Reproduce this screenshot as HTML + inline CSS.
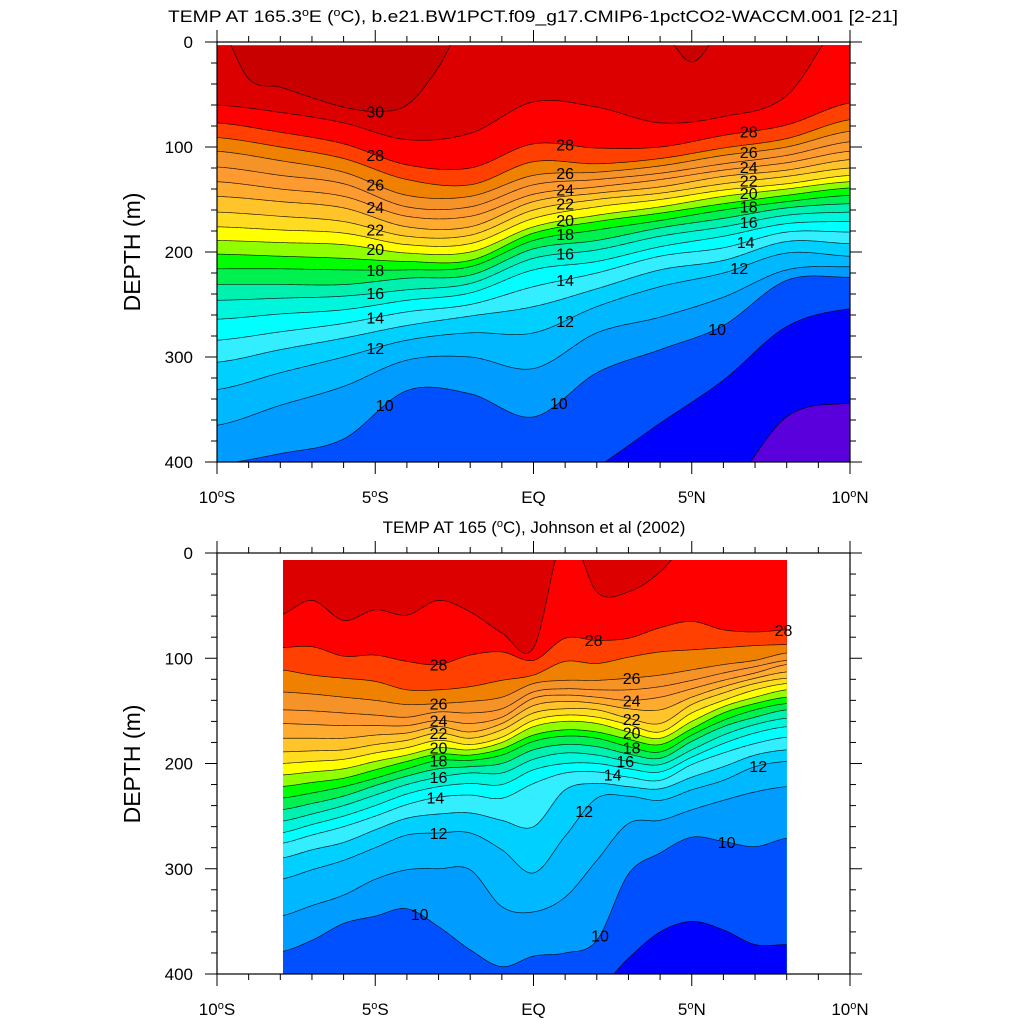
<!DOCTYPE html>
<html><head><meta charset="utf-8"><title>TEMP sections</title>
<style>
html,body{margin:0;padding:0;background:#fff;}
svg{display:block;font-family:"Liberation Sans",sans-serif;}
</style></head>
<body>
<svg id="fig" xmlns="http://www.w3.org/2000/svg" width="1024" height="1024" viewBox="0 0 1024 1024">
<rect width="1024" height="1024" fill="#fff"/>
<defs>
<clipPath id="clipTop"><rect x="217" y="45.2" width="633" height="416.8"/></clipPath>
<clipPath id="clipBot"><rect x="283" y="560" width="504" height="414"/></clipPath>
</defs>
<text x="533" y="22" font-size="17" text-anchor="middle" textLength="730" lengthAdjust="spacingAndGlyphs">TEMP AT 165.3<tspan font-size="11" dy="-6">o</tspan><tspan dy="6">E (</tspan><tspan font-size="11" dy="-6">o</tspan><tspan dy="6">C), b.e21.BW1PCT.f09_g17.CMIP6-1pctCO2-WACCM.001 [2-21]</tspan></text>
<text x="534" y="533" font-size="17" text-anchor="middle">TEMP AT 165 (<tspan font-size="11" dy="-6">o</tspan><tspan dy="6">C), Johnson et al (2002)</tspan></text>
<text x="0" y="0" font-size="23" text-anchor="middle" transform="translate(140,252) rotate(-90)">DEPTH (m)</text>
<text x="0" y="0" font-size="23" text-anchor="middle" transform="translate(140,764) rotate(-90)">DEPTH (m)</text>
<g id="topPlot"></g>
<g id="botPlot"></g>
</svg>
<script>
// ---- data ----
const bandLevels = [30,29,28,27,26,25,24,23,22,21,20,19,18,17,16,15,14,13,12,11,10,9,8,7];
const bandColors = ["#c80000","#dc0000","#ff0000","#ff4000","#f08000","#f59228","#ff9a30","#ffab30","#ffc42a","#ffdc20","#ffff00","#90ff00","#00ff00","#00f050","#00f0b0","#00f5dd","#00ffff","#33eeff","#00d0ff","#00b8ff","#009cff","#0050ff","#0000ff","#5a00dc"];

// top panel (model): isotherm depths (m) per latitude
const topLevels = [29,28,27,26,25,24,23,22,21,20,19,18,17,16,15,14,13,12,11,10,9,8];
const topLats = [-10,-8,-6,-4,-2,0,2,4,6,8,10];
const topDepthByLat = [
 [60,77,91,104,119,133,147,162,176,189,202,216,231,246,264,284,305,331,365,402,430,440],
 [67,86,100,113,127,140,152,166,179,191,204,216,231,244,259,276,293,315,346,392,430,440],
 [77,97,111,124,135,147,158,171,182,193,206,217,231,242,255,268,282,300,328,378,430,440],
 [93,117,131,146,157,166,176,185,193,201,209,217,225,236,246,257,270,284,303,332,430,440],
 [87,120,136,147,157,166,176,184,192,200,208,214,222,230,239,250,261,277,300,335,430,440],
 [57,97,114,127,136,145,152,160,168,176,182,189,197,206,217,233,252,277,311,357,440,450],
 [62,101,116,124,131,138,144,150,157,165,171,179,189,198,209,220,235,252,277,315,405,440],
 [77,100,111,118,125,131,138,144,150,157,163,170,177,185,195,204,217,233,262,293,363,440],
 [71,89,101,108,116,122,128,135,141,147,154,160,168,176,185,196,208,220,243,270,322,430],
 [51,79,92,100,108,115,122,128,135,140,146,152,158,165,173,181,190,201,217,227,271,357],
 [-30,58,74,85,95,104,112,120,127,133,139,146,154,162,171,181,192,204,214,224,254,344]
];
const top30Lats = [-10,-9,-8,-7,-6,-5,-4,-3,-2,-1,0,1,2,3,4,5,6,7,8,9,10];
const top30Depth = [-20,35,43,53,62,66,60,24,-30,-30,-30,-30,-30,-30,-15,19,-15,-30,-30,-30,-30];

// bottom panel (Johnson et al): isotherm depths (m) per latitude
const botLevels = [29,28,27,26,25,24,23,22,21,20,19,18,17,16,15,14,13,12,11,10,9];
const botLats = [-8,-7,-6,-5,-4,-3,-2,-1,0,1,2,3,4,5,6,7,8];
const botDepthByLat = [
 [59,90,111,132,149,162,176,189,200,211,222,233,244,255,266,276,290,310,345,379,420],
 [45,89,116,134,150,163,176,188,198,208,218,228,238,248,258,268,282,301,335,368,420],
 [64,98,119,137,152,164,176,187,196,205,214,222,231,240,250,260,275,292,325,352,420],
 [54,97,122,140,154,164,173,182,190,198,206,214,221,230,240,250,263,280,310,345,420],
 [59,103,130,144,156,164,171,178,185,192,198,205,212,220,229,239,252,268,301,338,420],
 [45,106,130,143,151,159,165,171,178,185,191,197,205,213,222,232,248,266,300,355,420],
 [56,97,127,141,152,162,170,176,182,187,192,197,203,209,219,230,247,266,301,377,420],
 [76,94,121,137,148,156,162,168,175,180,186,192,200,209,220,233,254,282,336,393,420],
 [90,102,116,124,132,138,145,152,159,165,173,179,187,196,206,219,260,304,341,383,420],
 [-20,81,103,121,129,135,141,148,154,160,168,174,182,190,200,209,225,269,327,380,420],
 [37,83,105,121,130,137,143,149,156,162,170,176,184,192,200,208,219,233,292,368,415],
 [37,81,99,119,130,140,148,157,163,170,177,184,191,198,205,213,222,231,257,305,385],
 [18,71,94,116,127,137,149,162,170,176,182,189,195,201,208,216,224,235,254,285,360],
 [-15,65,92,111,121,129,137,144,152,160,167,173,179,187,194,201,213,225,244,270,350],
 [-30,73,90,106,114,121,127,133,140,146,152,159,165,173,181,190,203,216,235,274,358],
 [-30,75,88,102,108,114,119,124,130,137,143,149,156,163,171,181,192,203,227,279,372],
 [-30,73,87,95,102,106,113,119,124,130,137,143,149,157,165,175,187,198,222,271,372]
];

// contour label placements [level, latitude]
const topLabelLevels = [30,28,26,24,22,20,18,16,14,12,10, 28,26,24,22,20,18,16,14,12,10, 28,26,24,22,20,18,16,14,12,10];
const topLabelLats   = [-5,-5,-5,-5,-5,-5,-5,-5,-5,-5,-4.7, 1,1,1,1,1,1,1,1,1,0.8, 6.8,6.8,6.8,6.8,6.8,6.8,6.8,6.7,6.5,5.8];
const botLabelLevels = [28,26,24,22,20,18,16,14,12,10, 28,26,24,22,20,18,16,14,12,10, 28,12,10];
const botLabelLats   = [-3,-3,-3,-3,-3,-3,-3,-3.1,-3,-3.6, 1.9,3.1,3.1,3.1,3.1,3.1,2.9,2.5,1.6,2.1, 7.9,7.1,6.1];

const xTickLabels = ["10°S","5°S","EQ","5°N","10°N"];
const xTickLats = [-10,-5,0,5,10];
const yTickLabels = ["0","100","200","300","400"];
const yTickDepths = [0,100,200,300,400];

// ---- helpers ----
const NS = "http://www.w3.org/2000/svg";
function el(tag, attrs, parent){ const e=document.createElementNS(NS,tag); for(const k in attrs) e.setAttribute(k,attrs[k]); if(parent) parent.appendChild(e); return e; }
function colorBelow(level){ const i=bandLevels.indexOf(level-1); return bandColors[i]; }
function catmull(lats, vals, lat){
  const n=lats.length;
  if(lat<=lats[0]) return vals[0];
  if(lat>=lats[n-1]) return vals[n-1];
  let i=0; while(i<n-2 && lat>lats[i+1]) i++;
  const t=(lat-lats[i])/(lats[i+1]-lats[i]);
  const p0=vals[Math.max(0,i-1)], p1=vals[i], p2=vals[i+1], p3=vals[Math.min(n-1,i+2)];
  const t2=t*t, t3=t2*t;
  return 0.5*((2*p1)+(-p0+p2)*t+(2*p0-5*p1+4*p2-p3)*t2+(-p0+3*p1-3*p2+p3)*t3);
}
function column(rows, j){ return rows.map(r=>r[j]); }

function makePanel(cfg){
  const g=document.getElementById(cfg.gid);
  const xOf = lat => 217 + (lat+10)*(633/20);
  const yOf = d => cfg.y0 + d*cfg.scale;
  const curves = cfg.curves;
  const dataG = el("g",{"clip-path":"url(#"+cfg.clip+")"},g);
  
  
  const bg = el("rect",{x:217,y:cfg.y0,width:633,height:430,fill:cfg.bg},dataG);
  
  
  const lineStrs=[];
  curves.forEach(c=>{
    let pts=[];
    for(let lat=cfg.lat0; lat<=cfg.lat1+1e-9; lat+=0.05){
      let d=catmull(c.lats,c.vals,lat); d=Math.max(-60,Math.min(440,d));
      pts.push(xOf(lat).toFixed(2)+","+yOf(d).toFixed(2));
    }
    const line="M"+pts.join(" L");
    const yB=yOf(440);
    const fill=el("path",{d:line+" L"+xOf(cfg.lat1).toFixed(2)+","+yB+" L"+xOf(cfg.lat0).toFixed(2)+","+yB+" Z",fill:colorBelow(c.level),stroke:"none"},dataG);
    
    
    lineStrs.push([c.level,line]);
  });
  lineStrs.forEach(([lv,line])=>{
    const p=el("path",{d:line,fill:"none",stroke:"#000","stroke-width":"0.7","stroke-opacity":"0.85"},dataG);
    
    
  });
  cfg.labLevels.forEach((lv,k)=>{
    const c=curves.find(cc=>cc.level===lv); if(!c) return;
    const lat=cfg.labLats[k];
    const d=catmull(c.lats,c.vals,lat);
    const t=el("text",{x:xOf(lat).toFixed(1),y:(yOf(d)+6).toFixed(1),"font-size":"16","text-anchor":"middle",fill:"#000"},g);
    t.textContent=String(lv);
    
    
  });
  const yTop=cfg.y0, yBot=cfg.y0+400*cfg.scale;
  const fr=el("rect",{x:217,y:yTop,width:633,height:yBot-yTop,fill:"none",stroke:"#000","stroke-width":"1.2"},g);
  
  
  for(let lat=-10; lat<=10; lat++){
    const major=(lat%5===0); const L=major?12:6; const x=xOf(lat);
    const t1=el("line",{x1:x,x2:x,y1:yBot,y2:yBot+L,stroke:"#000","stroke-width":"1"},g);
    
    
    const t2=el("line",{x1:x,x2:x,y1:yTop,y2:yTop-L,stroke:"#000","stroke-width":"1"},g);
    
    
  }
  for(let d=0; d<=400; d+=20){
    const major=(d%100===0); const L=major?12:6; const y=yOf(d);
    const t1=el("line",{x1:217,x2:217-L,y1:y,y2:y,stroke:"#000","stroke-width":"1"},g);
    
    
    const t2=el("line",{x1:850,x2:850+L,y1:y,y2:y,stroke:"#000","stroke-width":"1"},g);
    
    
  }
  yTickLabels.forEach((s,i)=>{
    const t=el("text",{x:193,y:(yOf(yTickDepths[i])+6).toFixed(1),"font-size":"17","text-anchor":"end"},g);
    t.textContent=s;
    
    
  });
  xTickLabels.forEach((s,i)=>{
    const t=el("text",{x:xOf(xTickLats[i]).toFixed(1),y:(yBot+41).toFixed(1),"font-size":"17","text-anchor":"middle"},g);
    const m=s.match(/^(\d+)°([SN])$/);
    if(m){
      const a=el("tspan",{},t); a.textContent=m[1];
      const b=el("tspan",{"font-size":"11",dy:"-6"},t); b.textContent="o";
      const c=el("tspan",{dy:"6"},t); c.textContent=m[2];
    } else t.textContent=s;
    
    
  });
}

const topCurves=[{level:30,lats:top30Lats,vals:top30Depth}];
topLevels.forEach((lv,j)=>topCurves.push({level:lv,lats:topLats,vals:column(topDepthByLat,j)}));
const botCurves=[];
botLevels.forEach((lv,j)=>botCurves.push({level:lv,lats:botLats,vals:column(botDepthByLat,j)}));

makePanel({gid:"topPlot",prefix:"top",clip:"clipTop",y0:42,scale:1.05,lat0:-10,lat1:10,bg:"#c80000",curves:topCurves,labLevels:topLabelLevels,labLats:topLabelLats});
makePanel({gid:"botPlot",prefix:"bottom",clip:"clipBot",y0:553,scale:1.0525,lat0:-8,lat1:8,bg:"#dc0000",curves:botCurves,labLevels:botLabelLevels,labLats:botLabelLats});
</script>
</body></html>
